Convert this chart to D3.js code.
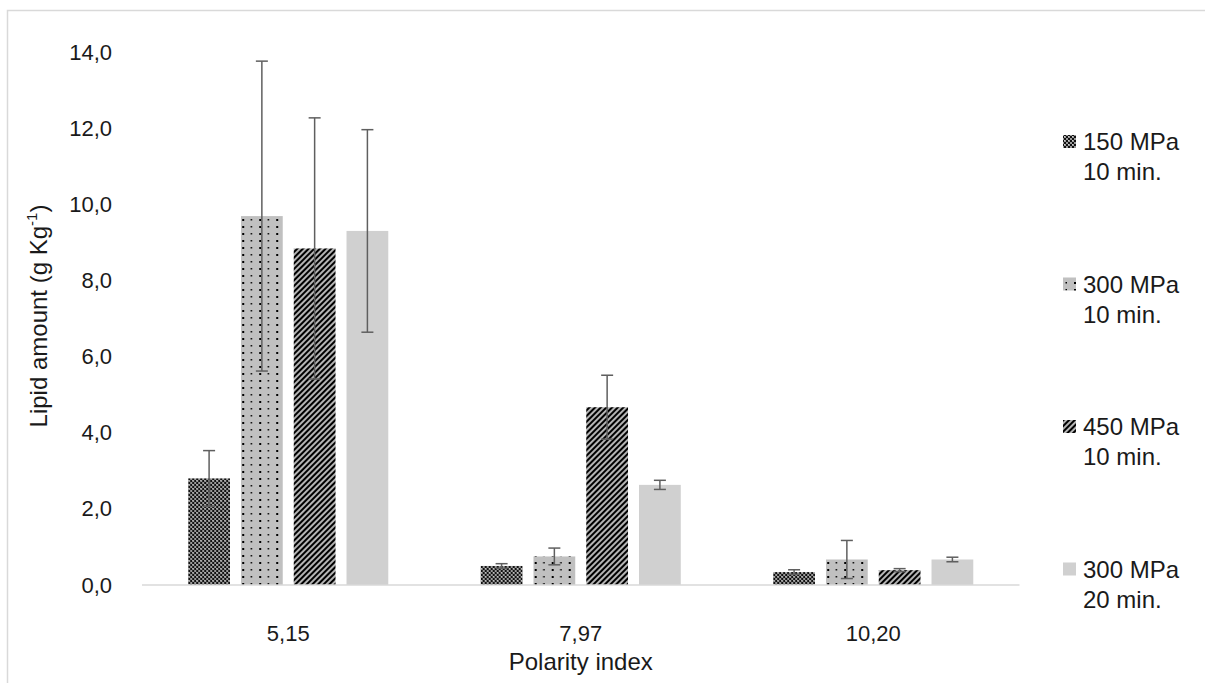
<!DOCTYPE html>
<html>
<head>
<meta charset="utf-8">
<script src="https://cdn.jsdelivr.net/npm/d3@7"></script>
<style>
  html, body { margin: 0; padding: 0; background: #fff; }
  svg { display: block; font-family: "Liberation Sans", Arial, sans-serif; }
</style>
</head>
<body>
<svg id="chart" width="1205" height="683"></svg>
<script>
// Polarity index categories
const categories = ["5,15", "7,97", "10,20"];
// Treatment series (legend labels, two lines each)
const seriesNames = [
  ["150 MPa", "10 min."],
  ["300 MPa", "10 min."],
  ["450 MPa", "10 min."],
  ["300 MPa", "20 min."]
];
// Lipid amount per series, one value per category (g Kg-1)
const s150_10 = [2.80, 0.50, 0.34];
const s300_10 = [9.69, 0.75, 0.67];
const s450_10 = [8.84, 4.67, 0.39];
const s300_20 = [9.30, 2.63, 0.67];
// Standard deviations for the error bars
const e150_10 = [0.73, 0.06, 0.06];
const e300_10 = [4.07, 0.22, 0.50];
const e450_10 = [3.43, 0.84, 0.04];
const e300_20 = [2.66, 0.12, 0.06];
// Y axis ticks
const yTicks = [0, 2, 4, 6, 8, 10, 12, 14];

const values = [s150_10, s300_10, s450_10, s300_20];
const errors = [e150_10, e300_10, e450_10, e300_20];
const fills = ["url(#pCheck)", "url(#pDots)", "url(#pStripe)", "#d0d0d0"];
const FS = 22;      // tick labels
const FS_T = 24;    // axis titles and legend
const TXT = "#1a1a1a";

const svg = d3.select("#chart");

// Fill patterns
const defs = svg.append("defs");
const pc = defs.append("pattern").attr("id", "pCheck").attr("patternUnits", "userSpaceOnUse")
  .attr("width", 4).attr("height", 4);
pc.append("rect").attr("width", 4).attr("height", 4).attr("fill", "#111");
pc.append("rect").attr("x", 0).attr("y", 0).attr("width", 2).attr("height", 2).attr("fill", "#9a9a9a");
pc.append("rect").attr("x", 2).attr("y", 2).attr("width", 2).attr("height", 2).attr("fill", "#9a9a9a");
pc.append("rect").attr("x", 0).attr("y", 0).attr("width", 1).attr("height", 1).attr("fill", "#d0d0d0");

const pd = defs.append("pattern").attr("id", "pDots").attr("patternUnits", "userSpaceOnUse")
  .attr("width", 17).attr("height", 14);
pd.append("rect").attr("width", 17).attr("height", 14).attr("fill", "#c0c0c0");
pd.append("rect").attr("x", 3).attr("y", 2).attr("width", 2).attr("height", 2).attr("fill", "#000");
pd.append("rect").attr("x", 11.5).attr("y", 2).attr("width", 1.5).attr("height", 1.5).attr("fill", "#000");
pd.append("rect").attr("x", 3).attr("y", 9).attr("width", 2).attr("height", 2).attr("fill", "#000");
pd.append("rect").attr("x", 11.5).attr("y", 9).attr("width", 1.5).attr("height", 1.5).attr("fill", "#000");

const ps = defs.append("pattern").attr("id", "pStripe").attr("patternUnits", "userSpaceOnUse")
  .attr("width", 4).attr("height", 4).attr("patternTransform", "rotate(45)");
ps.append("rect").attr("width", 4).attr("height", 4).attr("fill", "#b4b4b4");
ps.append("rect").attr("width", 2).attr("height", 4).attr("fill", "#000");

// Chart frame
svg.append("rect").attr("x", 7.5).attr("y", 10.5).attr("width", 1400).attr("height", 800)
  .attr("fill", "none").attr("stroke", "#d9d9d9").attr("stroke-width", 1.5);

const plot = { left: 142, right: 1019.5, top: 52, bottom: 585 };

const x0 = d3.scaleBand().domain(categories).range([plot.left, plot.right])
  .paddingInner(0.316).paddingOuter(0.158);
const x1 = d3.scaleBand().domain(d3.range(seriesNames.length)).range([0, x0.bandwidth()])
  .paddingInner(0.2085).paddingOuter(0);
const y = d3.scaleLinear().domain([0, 14]).range([plot.bottom, plot.top]);

// Y axis labels
const yAxis = d3.axisLeft(y).tickValues(yTicks).tickSize(0).tickPadding(0)
  .tickFormat(d => d3.format(".1f")(d).replace(".", ","));
const yg = svg.append("g").attr("transform", `translate(${112},0)`).call(yAxis);
yg.attr("font-size", FS).attr("font-family", null);
yg.select(".domain").remove();
yg.selectAll("text").attr("fill", TXT);

// Bars
const groups = svg.append("g").selectAll("g").data(categories).join("g")
  .attr("transform", d => `translate(${x0(d)},0)`);

groups.each(function(cat, ci) {
  const g = d3.select(this);
  values.forEach((vals, si) => {
    const v = vals[ci];
    g.append("rect")
      .attr("x", x1(si)).attr("y", y(v))
      .attr("width", x1.bandwidth()).attr("height", y(0) - y(v))
      .attr("fill", fills[si]);
  });
});

// Category axis line
svg.append("line").attr("x1", plot.left).attr("x2", plot.right)
  .attr("y1", y(0)).attr("y2", y(0)).attr("stroke", "#d9d9d9").attr("stroke-width", 1.5);

// Error bars
groups.each(function(cat, ci) {
  const g = d3.select(this);
  values.forEach((vals, si) => {
    const v = vals[ci], e = errors[si][ci];
    const cx = x1(si) + x1.bandwidth() / 2;
    const col = "#5f5f5f";
    g.append("line").attr("x1", cx).attr("x2", cx).attr("y1", y(v - e)).attr("y2", y(v + e))
      .attr("stroke", col).attr("stroke-width", 1.5);
    [v - e, v + e].forEach(t => {
      g.append("line").attr("x1", cx - 6).attr("x2", cx + 6).attr("y1", y(t)).attr("y2", y(t))
        .attr("stroke", col).attr("stroke-width", 1.5);
    });
  });
});

// X axis labels
const xAxis = d3.axisBottom(x0).tickSize(0).tickPadding(0);
const xg = svg.append("g").attr("transform", `translate(0,${y(0)})`).call(xAxis);
xg.attr("font-size", FS).attr("font-family", null);
xg.select(".domain").remove();
xg.selectAll("text").attr("dy", null).attr("y", 56).attr("fill", TXT);

// Axis titles
svg.append("text").attr("x", (plot.left + plot.right) / 2).attr("y", 670)
  .attr("text-anchor", "middle").attr("font-size", FS_T).attr("fill", TXT)
  .text("Polarity index");

const yt = svg.append("text").attr("transform", `translate(47,${316}) rotate(-90)`)
  .attr("text-anchor", "middle").attr("font-size", FS_T).attr("fill", TXT);
yt.append("tspan").text("Lipid amount (g Kg");
yt.append("tspan").attr("font-size", 15).attr("dy", -10).text("-1");
yt.append("tspan").attr("dy", 10).text(")");

// Legend
const legend = svg.append("g");
seriesNames.forEach((lines, i) => {
  const ly = 150 + i * 142.5;
  legend.append("rect").attr("x", 1063).attr("y", ly - 15).attr("width", 13).attr("height", 13)
    .attr("fill", fills[i]);
  const t = legend.append("text").attr("x", 1083).attr("y", ly).attr("font-size", FS_T).attr("fill", TXT);
  t.append("tspan").attr("x", 1083).text(lines[0]);
  t.append("tspan").attr("x", 1083).attr("dy", 30).text(lines[1]);
});
</script>
</body>
</html>
